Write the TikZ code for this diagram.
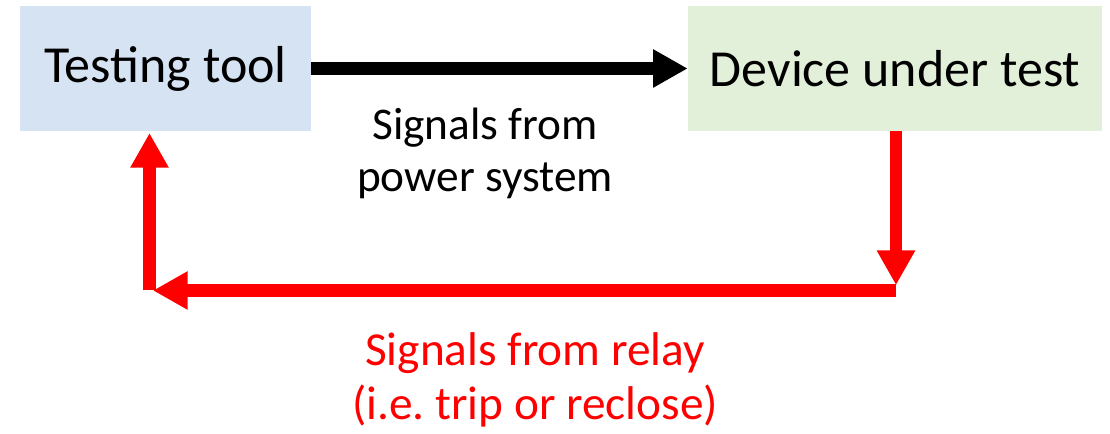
\documentclass[tikz,border=0pt]{standalone}
\usepackage{fontspec}
\setmainfont{Carlito}
\usetikzlibrary{arrows.meta}

\definecolor{toolblue}{HTML}{D5E3F3}
\definecolor{dutgreen}{HTML}{E2F0D9}

\begin{document}
\begin{tikzpicture}[x=0.75pt,y=-0.75pt,
			box/.style={rectangle,minimum height=93.75pt,inner sep=0pt,
				font=\fontsize{39}{47}\selectfont},
			sig/.style={line width=9.4pt,-{Triangle[length=26pt,width=27pt]}},
			lbl/.style={align=center,inner sep=0pt,
				font=\fontsize{34}{39.5}\selectfont}]
		\useasboundingbox (0,0) rectangle (1110,434);

		% the two blocks
		\node[box,fill=toolblue,minimum width=218.25pt] (Tool) at (165.5,68.5) {Testing tool};
		\node[box,fill=dutgreen,minimum width=310.5pt] (DUT) at (895,68.5) {Device under test};

		% corners of the return path
		\coordinate (br) at (896,290.5);
		\coordinate (bl) at (149.5,290.5);

		\draw[sig] (Tool) -- (DUT);
		\draw[sig,red,shorten >=4pt] (DUT.south -| br) -- (br);
		\draw[sig,red,shorten >=2.6pt] (br) -- (bl);
		\draw[sig,red,shorten >=1.3pt] (bl) -- (Tool.south -| bl);

		\node[lbl] (PowerSig) at (485,153.5) {Signals from\\power system};
		\node[lbl,text=red,font=\fontsize{35.5}{41}\selectfont] (RelaySig) at (535,380) {Signals from relay\\(i.e.\ trip or reclose)};

\end{tikzpicture}
\end{document}
